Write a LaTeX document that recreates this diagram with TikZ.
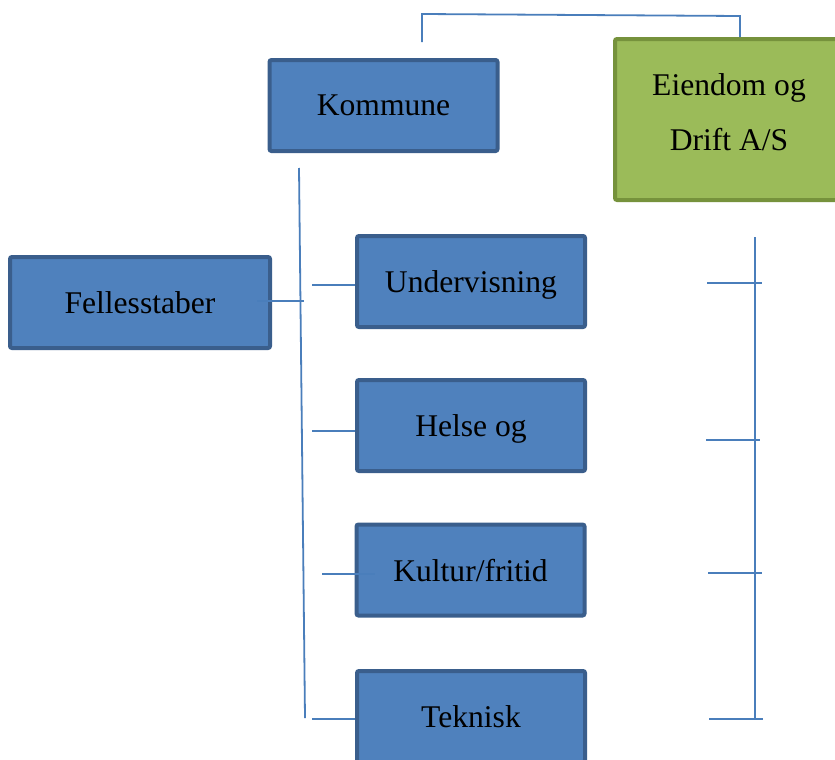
\documentclass[tikz,border=0pt]{standalone}
\usepackage{fontspec}
\setmainfont{Liberation Serif}
\definecolor{unitfill}{HTML}{4F81BD}
\definecolor{unitedge}{HTML}{3A5E8C}
\definecolor{cofill}{HTML}{9BBB59}
\definecolor{coedge}{HTML}{76923C}
\definecolor{linkblue}{HTML}{4A7EBB}
\tikzset{
  unit/.style={draw=unitedge, fill=unitfill, line width=2pt, rounded corners=1pt,
    minimum width=114pt, minimum height=45.5pt, inner sep=0pt, text depth=0pt,
    font=\fontsize{15.8}{19}\selectfont},
  company/.style={draw=coedge, fill=cofill, line width=2pt, rounded corners=1pt,
    minimum width=114pt, minimum height=80.5pt, inner sep=0pt},
  conn/.style={draw=linkblue, line width=0.9pt},
}
\begin{document}
\begin{tikzpicture}[x=0.5pt, y=-0.5pt]
  \clip (0,0) rectangle (835,760);
  \fill[white] (0,0) rectangle (835,760);

  % organisation boxes
  \node[unit] (kommune) at (383.5,105.5) {Kommune};
  \node[company] (eiendom) at (729,119.5) {};
  \node[align=center, font=\fontsize{15.8}{27.5}\selectfont] (eiendomtxt) at (729,112) {Eiendom og\\Drift A/S};
  \node[unit, minimum width=130pt] (felles) at (140,302.5) {Fellesstaber};
  \node[unit] (under) at (471,281.5) {Undervisning};
  \node[unit] (helse) at (471,425.5) {Helse og};
  \node[unit] (kultur) at (470.5,570) {Kultur/fritid};
  \node[unit] (teknisk) at (471,716.5) {Teknisk};

  % free ends of the connector lines
  \coordinate (topstart) at (422,42);
  \coordinate (topleft) at (422,14);
  \coordinate (topright) at (740,16);
  \coordinate (spinetop) at (299,168);
  \coordinate (spinebot) at (305,718);
  \coordinate (fellesend) at (304,301);
  \coordinate (underend) at (312,285);
  \coordinate (helseend) at (312,431);
  \coordinate (kulturend) at (322,574);
  \coordinate (tekniskend) at (312,719);
  \coordinate (railtop) at (755,237);
  \coordinate (railbot) at (755,720);

  % link from Kommune to Eiendom og Drift
  \draw[conn] (topstart) -- (topleft) -- (topright) -- (topright |- eiendom.north);

  % main spine and branches
  \draw[conn] (spinetop) -- (spinebot);
  \draw[conn] (felles.east) ++(-15,-1.5) -- (fellesend);
  \draw[conn] (underend) -- (under.west |- underend);
  \draw[conn] (helseend) -- (helse.west |- helseend);
  \draw[conn] (kulturend) -- ([xshift=10] kultur.west |- kulturend);
  \draw[conn] (tekniskend) -- (teknisk.west |- tekniskend);

  % right-hand rail with ticks
  \draw[conn] (railtop) -- (railbot);
  \draw[conn] (707,283) coordinate (tick1a) -- (762,283) coordinate (tick1b);
  \draw[conn] (706,440) coordinate (tick2a) -- (760,440) coordinate (tick2b);
  \draw[conn] (708,573) coordinate (tick3a) -- (762,573) coordinate (tick3b);
  \draw[conn] (709,719) coordinate (tick4a) -- (763,719) coordinate (tick4b);
\end{tikzpicture}
\end{document}
